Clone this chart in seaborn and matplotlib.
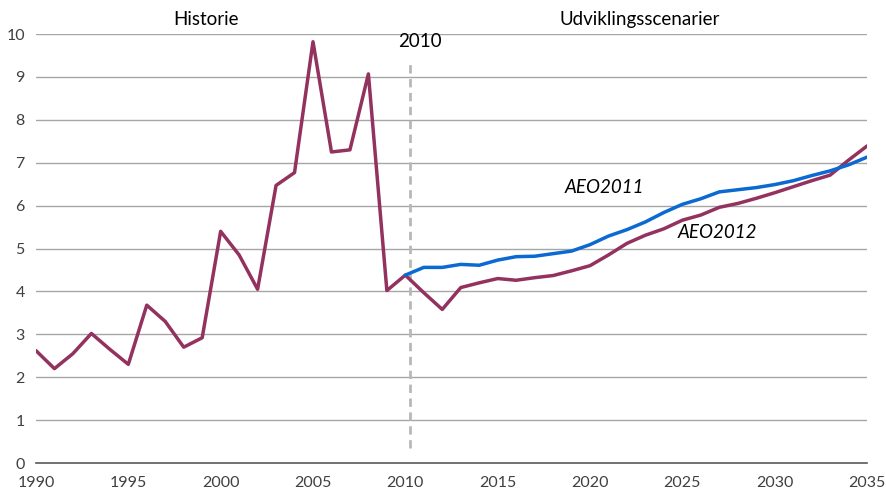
import seaborn as sns
import matplotlib.pyplot as plt
import pandas as pd

# AEO2012: historie 1990-2010 + scenarie til 2035
years_2012 = list(range(1990, 2036))
aeo2012 = [2.62, 2.20, 2.55, 3.02, 2.65, 2.30, 3.68, 3.30, 2.70, 2.92,
           5.40, 4.85, 4.05, 6.47, 6.77, 9.82, 7.25, 7.30, 9.07, 4.02,
           4.38, 3.97, 3.58, 4.09, 4.20, 4.30, 4.26, 4.32, 4.37, 4.48,
           4.60, 4.85, 5.12, 5.31, 5.46, 5.66, 5.78, 5.96, 6.05, 6.17,
           6.30, 6.44, 6.58, 6.71, 7.06, 7.39]

# AEO2011 scenarie 2010-2035
years_2011 = list(range(2010, 2036))
aeo2011 = [4.38, 4.56, 4.56, 4.63, 4.61, 4.73, 4.81, 4.82, 4.88, 4.94,
           5.09, 5.29, 5.44, 5.62, 5.84, 6.03, 6.16, 6.32, 6.37, 6.42,
           6.49, 6.58, 6.70, 6.81, 6.95, 7.13]

purple = "#93325F"
blue = "#0A6AD2"

sns.set_style("white")
plt.rcParams['font.family'] = ['Lato', 'DejaVu Sans']

df12 = pd.DataFrame({"year": years_2012, "value": aeo2012})
df11 = pd.DataFrame({"year": years_2011, "value": aeo2011})

fig = plt.figure(figsize=(8.86, 4.95), dpi=100)
ax = fig.add_axes([0.0406, 0.0646, 0.938, 0.8667])

ax.vlines(2010.25, 0.35, 9.35, colors="#B8B8B8", linestyles=(0, (3, 2)), linewidth=2, zorder=1)
sns.lineplot(data=df12, x="year", y="value", color=purple, linewidth=2.5, ax=ax, zorder=3)
sns.lineplot(data=df11, x="year", y="value", color=blue, linewidth=2.5, ax=ax, zorder=4)

ax.set_xlim(1990, 2035)
ax.set_ylim(0, 10)
ax.set_xticks(range(1990, 2036, 5))
ax.set_yticks(range(0, 11))
ax.set_xlabel("")
ax.set_ylabel("")
for y in range(1, 11):
    ax.axhline(y, color="#A6A6A6", linewidth=1, zorder=0)

for s in ["top", "right", "left"]:
    ax.spines[s].set_visible(False)
ax.spines["bottom"].set_color("#595959")
ax.spines["bottom"].set_linewidth(1.2)
ax.tick_params(axis="x", direction="out", length=5, width=1, color="#595959",
               labelsize=11.5, labelcolor="#404040", pad=4)
ax.tick_params(axis="y", length=0, labelsize=11.5, labelcolor="#404040", pad=8)

ax.text(1999.2, 10.33, "Historie", ha="center", va="center", fontsize=13.5, color="black")
ax.text(2022.7, 10.33, "Udviklingsscenarier", ha="center", va="center", fontsize=13.5, color="black")
ax.text(2010.8, 9.82, "2010", ha="center", va="center", fontsize=13.5, color="black")
ax.text(2020.8, 6.43, "AEO2011", ha="center", va="center", fontsize=13.5, style="italic", color="black")
ax.text(2026.9, 5.38, "AEO2012", ha="center", va="center", fontsize=13.5, style="italic", color="black")

fig.savefig("out.png", dpi=100)
